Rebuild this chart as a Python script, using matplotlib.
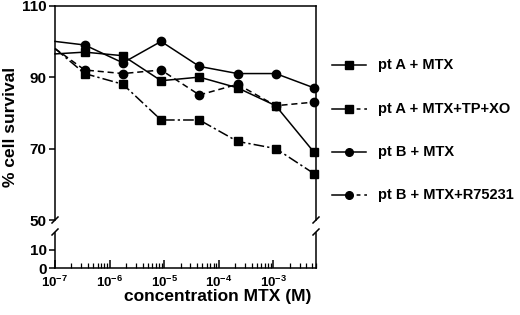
import numpy as np
import matplotlib
matplotlib.use("Agg")
import matplotlib.pyplot as plt
from matplotlib.ticker import LogLocator, FixedLocator, FixedFormatter, NullFormatter

plt.rcParams['font.family'] = ['Liberation Sans', 'DejaVu Sans']
plt.rcParams['font.weight'] = 'bold'
plt.rcParams['mathtext.fontset'] = 'custom'
plt.rcParams['mathtext.bf'] = 'Liberation Sans:bold'
plt.rcParams['mathtext.rm'] = 'Liberation Sans:bold'

# data (first point at 1e-7 has no marker)
conc = [1e-7, 3.5e-7, 1.75e-6, 8.75e-6, 4.4e-5, 2.2e-4, 1.1e-3, 5.5e-3]
ptA_mtx = [96.5, 97, 96, 89, 90, 87, 82, 69]
ptA_tpxo = [98, 91, 88, 78, 78, 72, 70, 63]
ptB_mtx = [100, 99, 94, 100, 93, 91, 91, 87]
ptB_r75 = [98, 92, 91, 92, 85, 88, 82, 83]

labels = ['pt A + MTX', 'pt A + MTX+TP+XO', 'pt B + MTX', 'pt B + MTX+R75231']
series = [ptA_mtx, ptA_tpxo, ptB_mtx, ptB_r75]
markers = ['s', 's', 'o', 'o']
styles = ['-', (0, (7, 2, 1.5, 2)), '-', (0, (4, 2.5))]

xticks = [1e-7, 1e-6, 1e-5, 1e-4, 1e-3]
xticklabels = [r'$\mathbf{10^{-7}}$', r'$\mathbf{10^{-6}}$', r'$\mathbf{10^{-5}}$',
               r'$\mathbf{10^{-4}}$', r'$\mathbf{10^{-3}}$']

W, H = 520, 315
fig = plt.figure(figsize=(W / 100, H / 100), dpi=100)

left, right = 55, 316
top_y0, top_y1 = 5.7, 220     # pixel rows of 110 and 50
bot_y0, bot_y1 = 233, 268     # pixel rows of top and 0 on the lower panel

ax = fig.add_axes([left / W, 1 - top_y1 / H, (right - left) / W, (top_y1 - top_y0) / H])
axb = fig.add_axes([left / W, 1 - bot_y1 / H, (right - left) / W, (bot_y1 - bot_y0) / H])

lw = 1.1
spw = 1.1
for y, m, ls in zip(series, markers, styles):
    ax.plot(conc, y, color='black', lw=lw, ls=ls, marker=m, markersize=6,
            markevery=list(range(1, len(conc))), clip_on=False, zorder=3)

xmin, xmax = 1e-7, 6e-3
for a in (ax, axb):
    a.set_xscale('log')
    a.set_xlim(xmin, xmax)
    for s in a.spines.values():
        s.set_linewidth(spw)

ax.set_ylim(50, 110)
ax.set_yticks([50, 70, 90, 110])
ax.spines['bottom'].set_visible(False)
ax.tick_params(axis='x', which='both', bottom=False, labelbottom=False)
ax.tick_params(axis='y', direction='out', length=4, width=spw, labelsize=11, pad=2)

axb.set_ylim(0, 19.4)
axb.set_yticks([0, 10])
axb.spines['top'].set_visible(False)
axb.tick_params(axis='y', direction='out', length=4, width=spw, labelsize=11, pad=2)
axb.xaxis.set_major_locator(FixedLocator(xticks))
axb.xaxis.set_major_formatter(FixedFormatter(xticklabels))
axb.xaxis.set_minor_locator(LogLocator(base=10, subs=np.arange(2, 10), numticks=20))
axb.xaxis.set_minor_formatter(NullFormatter())
axb.tick_params(axis='x', which='major', direction='in', length=6, width=spw, labelsize=9.5, pad=5)
axb.tick_params(axis='x', which='minor', direction='in', length=3.5, width=0.9)

# break marks on both vertical spines
pw = 1 / (right - left)
ph_top = 1 / (top_y1 - top_y0)
ph_bot = 1 / (bot_y1 - bot_y0)
for xa in (0, 1):
    ax.plot([xa - 3 * pw, xa + 3 * pw], [-3 * ph_top, 3 * ph_top], color='black',
            lw=spw, transform=ax.transAxes, clip_on=False)
    axb.plot([xa - 3 * pw, xa + 3 * pw], [1 - 2 * ph_bot, 1 + 4 * ph_bot], color='black',
             lw=spw, transform=axb.transAxes, clip_on=False)

fig.text(11 / W, 1 - 127 / H, '% cell survival', rotation=90, ha='center', va='center',
         fontsize=12.5, fontweight='bold')
fig.text(218 / W, 1 - 297 / H, 'concentration MTX (M)', ha='center', va='center',
         fontsize=12.5, fontweight='bold')

# legend drawn in pixel coordinates
lg = fig.add_axes([0, 0, 1, 1])
lg.set_xlim(0, W)
lg.set_ylim(H, 0)
lg.axis('off')
rows = [65, 109, 152, 195]
for yy, lab, m, ls in zip(rows, labels, markers, styles):
    if ls == '-':
        lg.plot([332, 366], [yy, yy], color='black', lw=lw)
    else:
        lg.plot([332, 349], [yy, yy], color='black', lw=lw)
        lg.plot([349, 367], [yy, yy], color='black', lw=lw, ls=(0, (2.5, 2.5)))
    lg.plot([349], [yy], color='black', marker=m, markersize=5.5)
    lg.text(378, yy, lab, ha='left', va='center', fontsize=10.5, fontweight='bold')

fig.savefig('out.png', dpi=100)
